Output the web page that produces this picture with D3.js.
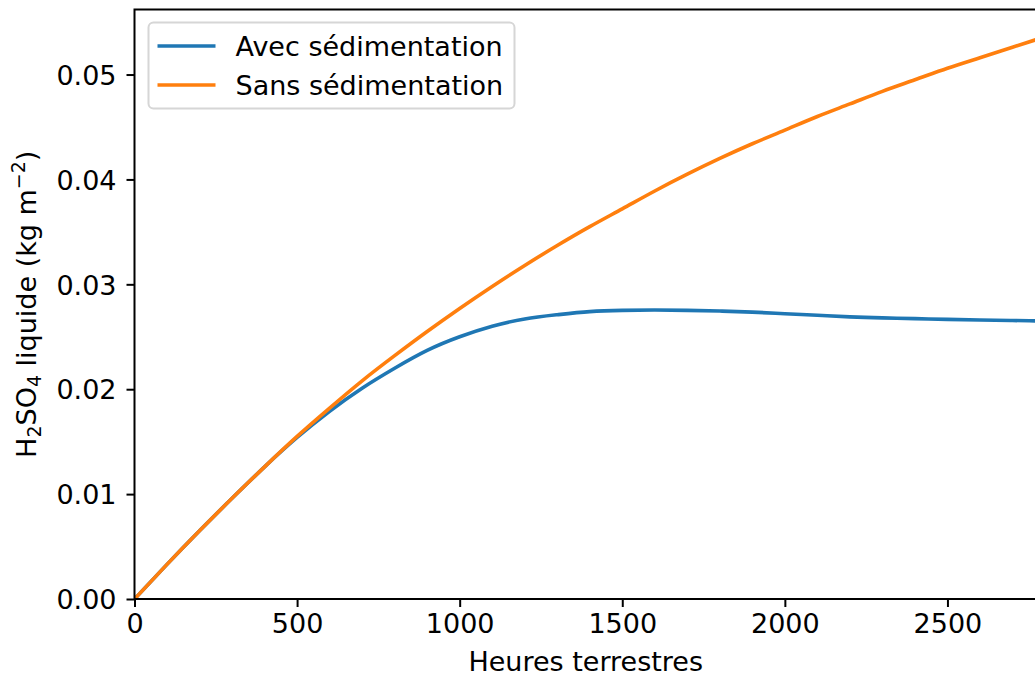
<!DOCTYPE html>
<html>
<head>
<meta charset="utf-8">
<script src="https://cdn.jsdelivr.net/npm/d3@7"></script>
<style>
  body { margin: 0; background: #fff; overflow: hidden; }
  text { font-family: "DejaVu Sans", sans-serif; fill: #000; }
</style>
</head>
<body>
<div id="chart"></div>
<script>
// Data (hours, kg m-2)
var hours = [0, 100, 200, 300, 400, 500, 600, 700, 800, 900, 1000, 1100, 1200, 1300,
  1400, 1500, 1600, 1700, 1800, 1900, 2000, 2100, 2200, 2300, 2400, 2500, 2600, 2700, 2800];

var avecSed = [0, 0.0033, 0.0065, 0.0096, 0.0126, 0.0154, 0.0179, 0.0201, 0.0220, 0.0237,
  0.0250, 0.0260, 0.0267, 0.0271, 0.0274, 0.02752, 0.02755, 0.02752, 0.02745, 0.02735,
  0.0272, 0.02705, 0.0269, 0.0268, 0.02673, 0.02666, 0.0266, 0.02655, 0.0265];

var sansSed = [0, 0.0033, 0.0065, 0.0096, 0.0126, 0.0155, 0.0182, 0.0208, 0.0232, 0.0255,
  0.0277, 0.0298, 0.0318, 0.0337, 0.0355, 0.0372, 0.0389, 0.0405, 0.0420, 0.0434,
  0.0447, 0.0460, 0.0472, 0.0484, 0.0495, 0.0506, 0.0516, 0.0526, 0.0536];

var seriesNames = ["Avec sédimentation", "Sans sédimentation"];
var seriesColors = ["#1f77b4", "#ff7f0e"];
var xTicks = [0, 500, 1000, 1500, 2000, 2500];
var yTicks = [0, 0.01, 0.02, 0.03, 0.04, 0.05];

var width = 1035, height = 679;
var fontSize = 27;
var margin = { top: 9.5, left: 134.5, right: -10, bottom: 80 };
var plotW = width - margin.left - margin.right;
var plotH = height - margin.top - margin.bottom;

var svg = d3.select("#chart").append("svg")
  .attr("width", width)
  .attr("height", height);

var g = svg.append("g")
  .attr("transform", "translate(" + margin.left + "," + margin.top + ")");

var x = d3.scaleLinear().domain([0, 2800]).range([0, plotW]);
var y = d3.scaleLinear().domain([0, 0.0562]).range([plotH, 0]);

// clip for lines
g.append("clipPath").attr("id", "clip")
  .append("rect").attr("width", plotW).attr("height", plotH);

var line = d3.line()
  .x(function(d) { return x(d[0]); })
  .y(function(d) { return y(d[1]); })
  .curve(d3.curveNatural);

[avecSed, sansSed].forEach(function(vals, i) {
  g.append("path")
    .datum(hours.map(function(h, j) { return [h, vals[j]]; }))
    .attr("clip-path", "url(#clip)")
    .attr("fill", "none")
    .attr("stroke", seriesColors[i])
    .attr("stroke-width", 3.6)
    .attr("d", line);
});

// axes
var xAxis = g.append("g")
  .attr("transform", "translate(0," + plotH + ")")
  .call(d3.axisBottom(x).tickValues(xTicks).tickSize(8).tickPadding(7).tickFormat(d3.format("d")));

var yAxis = g.append("g")
  .call(d3.axisLeft(y).tickValues(yTicks).tickSize(8).tickPadding(10).tickFormat(d3.format(".2f")));

[xAxis, yAxis].forEach(function(ax) {
  ax.select(".domain").remove();
  ax.selectAll(".tick line").attr("stroke", "#000").attr("stroke-width", 2);
  ax.selectAll(".tick text").attr("font-size", fontSize + "px").attr("fill", "#000")
    .attr("font-family", "DejaVu Sans, sans-serif");
});
xAxis.selectAll(".tick text").attr("dy", "0.72em");
yAxis.selectAll(".tick text").attr("dy", "0.36em");

// frame
g.append("rect")
  .attr("width", plotW).attr("height", plotH)
  .attr("fill", "none").attr("stroke", "#000").attr("stroke-width", 2);

// axis labels
svg.append("text")
  .attr("x", margin.left + x(2800) / 2 - 4)
  .attr("y", 671)
  .attr("text-anchor", "middle")
  .attr("font-size", fontSize + "px")
  .text("Heures terrestres");

var yl = svg.append("text")
  .attr("transform", "translate(36," + (margin.top + plotH / 2) + ") rotate(-90)")
  .attr("text-anchor", "middle")
  .attr("font-size", fontSize + "px");
yl.append("tspan").text("H");
yl.append("tspan").attr("font-size", "19px").attr("dy", 5).text("2");
yl.append("tspan").attr("dy", -5).text("SO");
yl.append("tspan").attr("font-size", "19px").attr("dy", 5).text("4");
yl.append("tspan").attr("dy", -5).text(" liquide (kg m");
yl.append("tspan").attr("font-size", "19px").attr("dy", -11).text("\u22122");
yl.append("tspan").attr("dy", 11).text(")");

// legend
var legend = svg.append("g").attr("transform", "translate(148.5,22.5)");
legend.append("rect")
  .attr("width", 366).attr("height", 86)
  .attr("rx", 5).attr("ry", 5)
  .attr("fill", "#fff").attr("fill-opacity", 0.8)
  .attr("stroke", "#d6d6d6").attr("stroke-width", 2);

seriesNames.forEach(function(name, i) {
  var row = legend.append("g").attr("transform", "translate(0," + (23.5 + i * 39) + ")");
  row.append("line")
    .attr("x1", 9).attr("x2", 67)
    .attr("stroke", seriesColors[i]).attr("stroke-width", 3.6);
  row.append("text")
    .attr("x", 87).attr("y", 9.5)
    .attr("font-size", fontSize + "px")
    .text(name);
});
</script>
</body>
</html>
